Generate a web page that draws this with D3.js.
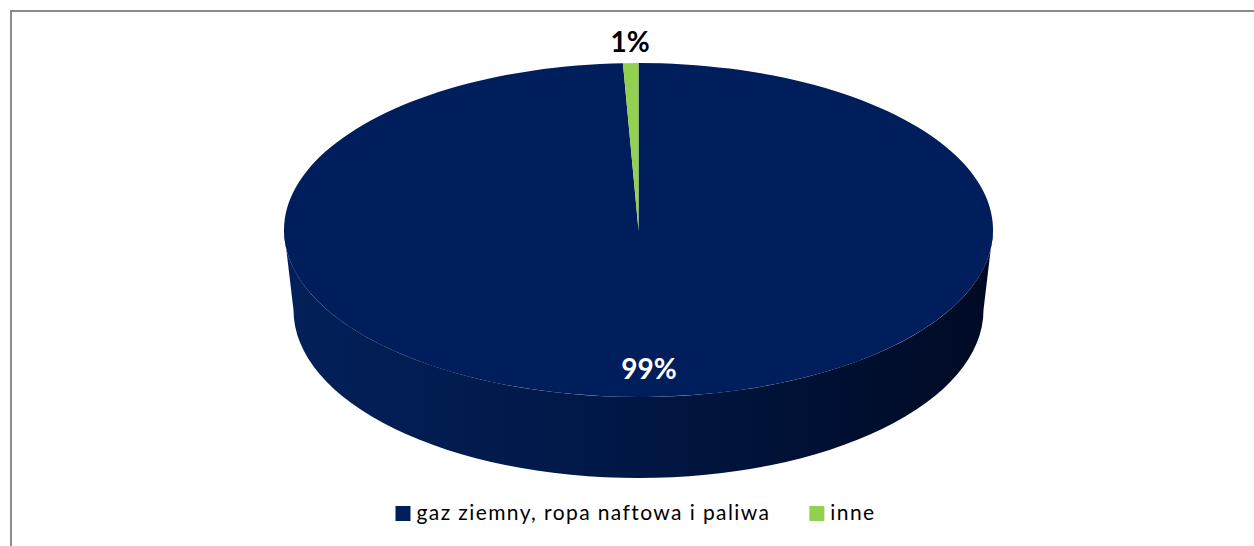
<!DOCTYPE html>
<html>
<head>
<meta charset="utf-8">
<script src="https://cdn.jsdelivr.net/npm/d3@7"></script>
<style>
  body { margin: 0; background: #fff; }
  svg { display: block; }
</style>
</head>
<body>
<div id="chart"></div>
<script>
// data
const categories = ["gaz ziemny, ropa naftowa i paliwa", "inne"];
const shares = [99.3, 0.7];
const labels = ["99%", "1%"];
const colors = ["#001e5c", "#92d050"];

const width = 1254;
const height = 546;

const svg = d3.select("#chart")
  .append("svg")
    .attr("width", width)
    .attr("height", height);

// frame (only top and left edges are visible in the crop)
svg.append("path")
  .attr("d", `M11,${height} L11,11 L${width},11`)
  .attr("fill", "none")
  .attr("stroke", "#8c8c8c")
  .attr("stroke-width", 2);

// 3d pie geometry
const cx = 638.5;
const topY = 230, topRx = 354.5, topRy = 167;
const botY = 310, botRx = 345, botRy = 168;

const defs = svg.append("defs");
const grad = defs.append("linearGradient")
  .attr("id", "side")
  .attr("x1", "0%").attr("x2", "100%")
  .attr("y1", "0%").attr("y2", "0%");
grad.append("stop").attr("offset", "0%").attr("stop-color", "#03205a");
grad.append("stop").attr("offset", "45%").attr("stop-color", "#001846");
grad.append("stop").attr("offset", "100%").attr("stop-color", "#000a24");

// side wall
svg.append("path")
  .attr("d",
    `M${cx - topRx},${topY} ` +
    `A${topRx},${topRy} 0 0 0 ${cx + topRx},${topY} ` +
    `L${cx + botRx},${botY} ` +
    `A${botRx},${botRy} 0 0 1 ${cx - botRx},${botY} Z`)
  .attr("fill", "url(#side)");

// top face
const pie = d3.pie().sort(null).value(d => d);
const arcs = pie(shares);
const arc = d3.arc().innerRadius(0).outerRadius(topRx);

const topFace = svg.append("g")
  .attr("transform", `translate(${cx},${topY}) scale(1,${topRy / topRx})`);

topFace.selectAll("path")
  .data(arcs)
  .enter()
  .append("path")
    .attr("d", arc)
    .attr("fill", (d, i) => colors[i]);

// data labels
svg.append("text")
  .attr("x", 649)
  .attr("y", 379)
  .attr("text-anchor", "middle")
  .attr("font-family", "Lato, sans-serif")
  .attr("font-weight", "bold")
  .attr("font-size", 28)
  .attr("fill", "#fff")
  .text(labels[0]);

svg.append("text")
  .attr("x", 630)
  .attr("y", 52)
  .attr("text-anchor", "middle")
  .attr("font-family", "Lato, sans-serif")
  .attr("font-weight", "bold")
  .attr("font-size", 28)
  .attr("fill", "#000")
  .text(labels[1]);

// legend
const legend = svg.append("g");
let lx = 0;
categories.forEach((c, i) => {
  const item = legend.append("g").attr("transform", `translate(${lx},0)`);
  item.append("rect")
    .attr("x", 0).attr("y", -14)
    .attr("width", 15).attr("height", 15)
    .attr("fill", colors[i]);
  const t = item.append("text")
    .attr("x", 21)
    .attr("y", 0)
    .attr("font-family", "Lato, sans-serif")
    .attr("font-size", 21)
    .attr("letter-spacing", 1.4)
    .attr("fill", "#000")
    .text(c);
  lx += 21 + t.node().getComputedTextLength() + 39;
});
const legendW = lx - 39;
legend.attr("transform", `translate(${635.5 - legendW / 2},520)`);
</script>
</body>
</html>
